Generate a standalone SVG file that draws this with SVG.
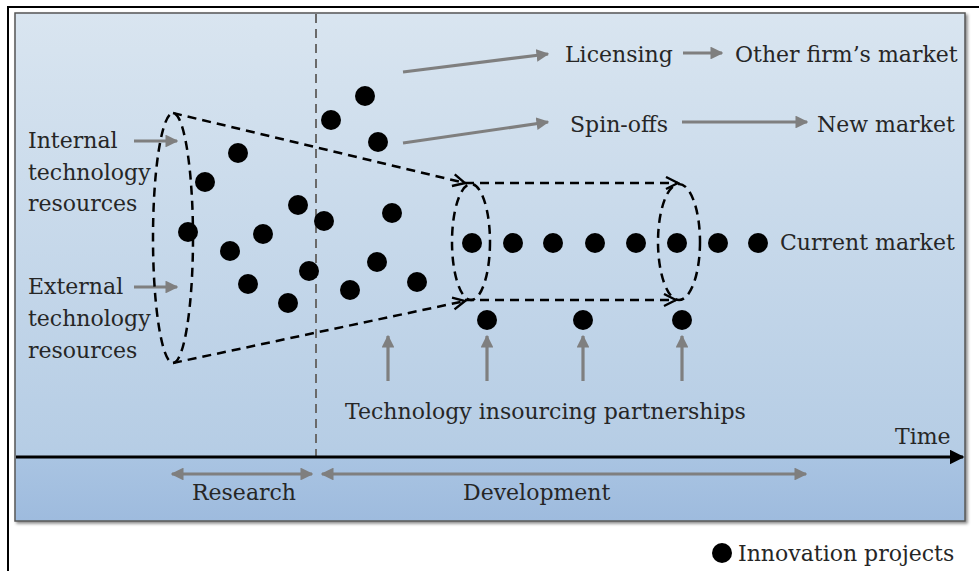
<svg xmlns="http://www.w3.org/2000/svg" width="979" height="571" viewBox="0 0 979 571">
<defs>
<linearGradient id="bg" x1="0" y1="0" x2="0" y2="1">
<stop offset="0" stop-color="#d9e5f0"/>
<stop offset="1" stop-color="#b0c9e3"/>
</linearGradient>
<linearGradient id="band" x1="0" y1="0" x2="0" y2="1">
<stop offset="0" stop-color="#a9c4e2"/>
<stop offset="1" stop-color="#9ebbde"/>
</linearGradient>
<filter id="sh" x="-5%" y="-5%" width="110%" height="110%">
<feDropShadow dx="2" dy="2" stdDeviation="1.5" flood-color="#000" flood-opacity="0.45"/>
</filter>
<marker id="ga" viewBox="0 0 10 10" refX="9" refY="5" markerWidth="4" markerHeight="4" orient="auto-start-reverse">
<path d="M0,0 L10,5 L0,10 z" fill="#7f7f7f"/>
</marker>
<marker id="ka" viewBox="0 0 10 10" refX="9" refY="5" markerWidth="5" markerHeight="5" orient="auto">
<path d="M0,0 L10,5 L0,10 z" fill="#000"/>
</marker>
<marker id="da" viewBox="0 0 10 10" refX="9" refY="5" markerWidth="6" markerHeight="6" orient="auto">
<path d="M1,1 L9,5 L1,9" fill="none" stroke="#000" stroke-width="1.6"/>
</marker>
</defs>
<style>
text{font-family:"DejaVu Serif","Liberation Serif",serif;font-size:22px;fill:#262626}
.dot{fill:#000}
.ga{stroke:#7f7f7f;stroke-width:3.2;fill:none}
.dash{stroke:#000;stroke-width:2.5;fill:none;stroke-dasharray:9 6}
</style>
<rect width="979" height="571" fill="#fff"/>
<line x1="7" y1="7" x2="979" y2="7" stroke="#000" stroke-width="2"/>
<line x1="8" y1="7" x2="8" y2="571" stroke="#000" stroke-width="2"/>
<g id="panel">
<rect x="15" y="13" width="950" height="508" fill="url(#bg)" stroke="#555" stroke-width="1.5" filter="url(#sh)"/>
<rect x="16" y="458" width="948" height="62" fill="url(#band)"/>
</g>
<g id="connectors">
<line x1="316" y1="14" x2="316" y2="457" stroke="#6a6a6a" stroke-width="2" stroke-dasharray="9 6"/>
<line x1="16" y1="457" x2="963" y2="457" stroke="#000" stroke-width="3" marker-end="url(#ka)"/>
<line class="ga" x1="172" y1="474" x2="312" y2="474" marker-start="url(#ga)" marker-end="url(#ga)"/>
<line class="ga" x1="322" y1="474" x2="806" y2="474" marker-start="url(#ga)" marker-end="url(#ga)"/>
<line class="ga" x1="134" y1="141" x2="177" y2="141" marker-end="url(#ga)"/>
<line class="ga" x1="134" y1="287" x2="177" y2="287" marker-end="url(#ga)"/>
<line class="ga" x1="403" y1="72" x2="548" y2="54" marker-end="url(#ga)"/>
<line class="ga" x1="683" y1="53" x2="722" y2="53" marker-end="url(#ga)"/>
<line class="ga" x1="403" y1="143" x2="548" y2="122" marker-end="url(#ga)"/>
<line class="ga" x1="682" y1="122" x2="807" y2="122" marker-end="url(#ga)"/>
<line class="ga" x1="388" y1="381" x2="388" y2="336" marker-end="url(#ga)"/>
<line class="ga" x1="487" y1="381" x2="487" y2="336" marker-end="url(#ga)"/>
<line class="ga" x1="583" y1="381" x2="583" y2="336" marker-end="url(#ga)"/>
<line class="ga" x1="682" y1="381" x2="682" y2="336" marker-end="url(#ga)"/>
</g>
<g id="funnel">
<ellipse class="dash" cx="173" cy="238" rx="20" ry="125"/>
<line class="dash" x1="173" y1="113" x2="465" y2="183" marker-end="url(#da)"/>
<line class="dash" x1="173" y1="363" x2="465" y2="301" marker-end="url(#da)"/>
<line class="dash" x1="465" y1="183" x2="678" y2="183" marker-end="url(#da)"/>
<line class="dash" x1="465" y1="300" x2="676" y2="300" marker-end="url(#da)"/>
<ellipse class="dash" cx="471" cy="242" rx="19" ry="58"/>
<ellipse class="dash" cx="679" cy="242" rx="21" ry="58"/>
</g>
<g id="projects">
<circle class="dot" cx="365" cy="96" r="10"/>
<circle class="dot" cx="331" cy="120" r="10"/>
<circle class="dot" cx="378" cy="142" r="10"/>
<circle class="dot" cx="238" cy="153" r="10"/>
<circle class="dot" cx="205" cy="182" r="10"/>
<circle class="dot" cx="298" cy="205" r="10"/>
<circle class="dot" cx="392" cy="213" r="10"/>
<circle class="dot" cx="324" cy="221" r="10"/>
<circle class="dot" cx="188" cy="232" r="10"/>
<circle class="dot" cx="263" cy="234" r="10"/>
<circle class="dot" cx="230" cy="251" r="10"/>
<circle class="dot" cx="377" cy="262" r="10"/>
<circle class="dot" cx="309" cy="271" r="10"/>
<circle class="dot" cx="417" cy="282" r="10"/>
<circle class="dot" cx="248" cy="284" r="10"/>
<circle class="dot" cx="350" cy="290" r="10"/>
<circle class="dot" cx="288" cy="303" r="10"/>
<circle class="dot" cx="472" cy="243" r="10"/>
<circle class="dot" cx="513" cy="243" r="10"/>
<circle class="dot" cx="553" cy="243" r="10"/>
<circle class="dot" cx="595" cy="243" r="10"/>
<circle class="dot" cx="636" cy="243" r="10"/>
<circle class="dot" cx="677" cy="243" r="10"/>
<circle class="dot" cx="718" cy="243" r="10"/>
<circle class="dot" cx="758" cy="243" r="10"/>
<circle class="dot" cx="487" cy="320" r="10"/>
<circle class="dot" cx="583" cy="320" r="10"/>
<circle class="dot" cx="682" cy="320" r="10"/>
</g>
<g id="labels">
<text x="28" y="148">Internal</text>
<text x="28" y="180">technology</text>
<text x="28" y="211">resources</text>
<text x="28" y="294">External</text>
<text x="28" y="326">technology</text>
<text x="28" y="358">resources</text>
<text x="565" y="62">Licensing</text>
<text x="735" y="62">Other firm’s market</text>
<text x="570" y="132">Spin-offs</text>
<text x="817" y="132">New market</text>
<text x="780" y="250">Current market</text>
<text x="345" y="419">Technology insourcing partnerships</text>
<text x="895" y="444">Time</text>
<text x="192" y="500">Research</text>
<text x="463" y="500">Development</text>
</g>
<g id="legend">
<circle class="dot" cx="722" cy="553" r="10"/>
<text x="738" y="561">Innovation projects</text>
</g>
</svg>
